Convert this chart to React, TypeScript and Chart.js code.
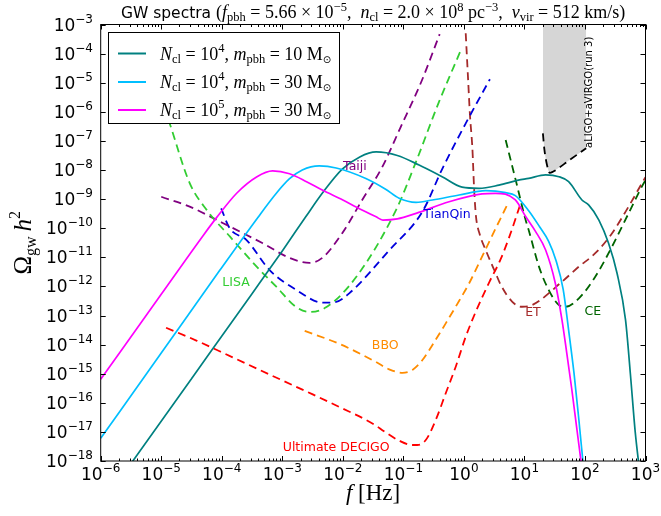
import React, { useEffect, useRef } from 'react';
import { Chart, registerables } from 'chart.js';

Chart.register(...registerables);

// ---- axis ticks (decade exponents) ----
const xTickExponents = [-6, -5, -4, -3, -2, -1, 0, 1, 2, 3];
const yTickExponents = [-18, -17, -16, -15, -14, -13, -12, -11, -10, -9, -8, -7, -6, -5, -4, -3];

// ---- model spectra (log10 f [Hz], log10 Omega h^2) ----
const tealLogF = [-5.5, -4.5, -3.5, -3.0, -2.61, -2.34, -2.01, -1.72, -1.45, -1.1, -0.74, -0.36, -0.03, 0.25, 0.58, 0.9, 1.07, 1.35, 1.57, 1.73, 1.95, 2.06, 2.23, 2.39, 2.53, 2.67, 2.75, 2.83, 2.9];
const tealLogOmega = [-18.09, -15.17, -12.25, -10.78, -9.6, -8.8, -7.97, -7.55, -7.38, -7.5, -7.83, -8.23, -8.59, -8.63, -8.52, -8.35, -8.29, -8.17, -8.23, -8.4, -9.03, -9.2, -9.72, -10.52, -11.55, -13.15, -15.0, -17.0, -18.3];

const cyanLogF = [-6.0, -5.0, -4.03, -3.4, -3.095, -2.88, -2.67, -2.39, -2.11, -1.62, -1.3, -1.07, -0.79, -0.52, -0.08, 0.36, 0.69, 0.85, 1.07, 1.25, 1.4, 1.52, 1.64, 1.73, 1.82, 1.9, 1.97];
const cyanLogOmega = [-17.22, -14.29, -11.44, -9.62, -8.79, -8.3, -8.0, -7.86, -7.93, -8.29, -8.65, -8.97, -9.11, -9.03, -8.86, -8.71, -8.78, -8.88, -9.4, -9.95, -10.45, -11.1, -12.1, -13.5, -15.0, -16.6, -18.1];

const magentaLogF = [-6.0, -5.0, -4.3, -4.08, -3.75, -3.425, -3.16, -2.88, -2.6, -2.34, -2.0, -1.78, -1.45, -1.34, -1.1, -0.79, -0.245, 0.3, 0.52, 0.85, 1.02, 1.18, 1.35, 1.51, 1.62, 1.7, 1.78, 1.86, 1.94];
const magentaLogOmega = [-15.19, -12.27, -10.23, -9.62, -8.79, -8.24, -8.03, -8.13, -8.4, -8.69, -9.03, -9.27, -9.61, -9.72, -9.68, -9.49, -9.09, -8.82, -8.8, -9.03, -9.6, -10.1, -10.75, -11.89, -13.15, -14.3, -15.5, -16.8, -18.1];

// ---- detector sensitivity curves ----
const lisaLogF = [-4.95, -4.86, -4.53, -4.25, -3.86, -3.42, -3.095, -2.77, -2.55, -2.27, -1.78, -1.12, -0.79, -0.41, -0.05];
const lisaLogOmega = [-5.85, -6.4, -8.45, -9.37, -10.3, -11.33, -12.02, -12.71, -12.88, -12.71, -11.68, -9.37, -7.71, -5.65, -3.88];

const taijiLogF = [-5.0, -4.53, -3.985, -3.33, -2.88, -2.55, -2.34, -2.01, -1.68, -1.35, -1.05, -0.7, -0.4];
const taijiLogOmega = [-8.92, -9.26, -9.82, -10.51, -11.02, -11.19, -11.02, -10.17, -9.03, -7.9, -6.55, -4.95, -3.33];

const tianqinLogF = [-4.01, -3.87, -3.59, -3.21, -2.77, -2.33, -2.11, -1.89, -1.23, -0.685, -0.355, 0.03, 0.43];
const tianqinLogOmega = [-9.32, -10.0, -10.41, -11.44, -12.12, -12.56, -12.53, -12.23, -10.75, -9.43, -7.95, -6.4, -4.88];

const bboLogF = [-2.63, -2.04, -1.45, -1.235, -1.015, -0.85, -0.685, -0.52, -0.3, -0.08, 0.085, 0.3, 0.55, 0.73];
const bboLogOmega = [-13.53, -13.99, -14.6, -14.85, -14.97, -14.87, -14.53, -14.01, -13.27, -12.5, -11.9, -10.98, -9.9, -9.14];

const decigoLogF = [-4.92, -4.41, -3.82, -3.23, -2.645, -2.06, -1.47, -1.32, -1.07, -0.85, -0.77, -0.63, -0.465, -0.3, -0.135, 0.03, 0.2, 0.42, 0.6, 0.75, 0.94];
const decigoLogOmega = [-13.42, -13.87, -14.44, -15.01, -15.57, -16.14, -16.76, -16.98, -17.3, -17.45, -17.45, -17.28, -16.59, -15.67, -14.76, -13.73, -12.85, -11.85, -11.1, -10.3, -9.13];

const etLogF = [0.03, 0.07, 0.1, 0.14, 0.17, 0.2, 0.26, 0.36, 0.525, 0.61, 0.8, 0.96, 1.13, 1.62, 1.9, 2.17, 2.445, 2.72, 2.94, 3.0];
const etLogOmega = [-3.3, -4.91, -6.11, -7.25, -8.7, -9.6, -10.2, -10.75, -11.55, -11.95, -12.53, -12.7, -12.64, -11.84, -11.32, -10.86, -10.18, -9.26, -8.46, -8.25];

const ceLogF = [0.69, 0.855, 1.02, 1.07, 1.24, 1.4, 1.57, 1.68, 1.9, 2.17, 2.445, 2.72, 2.94, 3.0];
const ceLogOmega = [-6.97, -8.34, -9.72, -10.06, -11.32, -12.12, -12.64, -12.7, -12.41, -11.67, -10.64, -9.49, -8.57, -8.35];

const ligoLogF = [1.305, 1.33, 1.37, 1.42, 1.47, 1.75, 2.02];
const ligoLogOmega = [-6.74, -7.3, -7.8, -8.1, -8.06, -7.65, -7.25];

// ---- text ----
const detectorLabels = [
  { text: 'Taiji', color: '#800080', logF: -1.8, logOmega: -7.9 },
  { text: 'LISA', color: '#32CD32', logF: -3.765, logOmega: -11.88 },
  { text: 'TianQin', color: '#0000DD', logF: -0.28, logOmega: -9.55 },
  { text: 'BBO', color: '#FF8C00', logF: -1.3, logOmega: -14.05 },
  { text: 'Ultimate DECIGO', color: '#FF0000', logF: -2.11, logOmega: -17.55 },
  { text: 'ET', color: '#A52A2A', logF: 1.14, logOmega: -12.91 },
  { text: 'CE', color: '#006400', logF: 2.13, logOmega: -12.88 },
];
const ligoLabel = 'aLIGO+aVIRGO(run 3)';

const SANS = '"DejaVu Sans", sans-serif';
const SERIF = '"Liberation Serif", "DejaVu Serif", serif';

type Seg = { t: string; s: number; it?: boolean; dy?: number; f?: string };

function segFont(g: Seg) {
  return `${g.it ? 'italic ' : ''}${g.s}px ${g.f || SERIF}`;
}
function richWidth(ctx: CanvasRenderingContext2D, segs: Seg[]) {
  let w = 0;
  for (const g of segs) {
    ctx.font = segFont(g);
    w += ctx.measureText(g.t).width;
  }
  return w;
}
function drawRich(ctx: CanvasRenderingContext2D, segs: Seg[], x: number, y: number, align: 'left' | 'center' | 'right') {
  const w = richWidth(ctx, segs);
  let cx = align === 'center' ? x - w / 2 : align === 'right' ? x - w : x;
  ctx.textAlign = 'left';
  ctx.textBaseline = 'alphabetic';
  for (const g of segs) {
    ctx.font = segFont(g);
    ctx.fillText(g.t, cx, y + (g.dy || 0));
    cx += ctx.measureText(g.t).width;
  }
}

function legendSegs(n: string, m: string): Seg[] {
  return [
    { t: 'N', s: 18, it: true },
    { t: 'cl', s: 12.5, dy: 3 },
    { t: ' = 10', s: 18 },
    { t: n, s: 12.5, dy: -8 },
    { t: ', ', s: 18 },
    { t: 'm', s: 18, it: true },
    { t: 'pbh', s: 12.5, dy: 3 },
    { t: ' = ' + m + ' M', s: 18 },
    { t: '⊙', s: 10, dy: 3, f: '"DejaVu Sans", sans-serif' },
  ];
}

const legendEntries = [
  { color: '#008080', segs: legendSegs('4', '10') },
  { color: '#00BFFF', segs: legendSegs('4', '30') },
  { color: '#FF00FF', segs: legendSegs('5', '30') },
];

const titleSegs: Seg[] = [
  { t: 'GW spectra ', s: 15.5, f: SANS },
  { t: '(', s: 18 },
  { t: 'f', s: 18, it: true },
  { t: 'pbh', s: 12.5, dy: 3 },
  { t: ' = 5.66 × 10', s: 18 },
  { t: '−5', s: 12.5, dy: -7 },
  { t: ',  ', s: 18 },
  { t: 'n', s: 18, it: true },
  { t: 'cl', s: 12.5, dy: 3 },
  { t: ' = 2.0 × 10', s: 18 },
  { t: '8', s: 12.5, dy: -7 },
  { t: ' pc', s: 18 },
  { t: '−3', s: 12.5, dy: -7 },
  { t: ',  ', s: 18 },
  { t: 'v', s: 18, it: true },
  { t: 'vir', s: 12.5, dy: 3 },
  { t: ' = 512 km/s)', s: 18 },
];

function pts(lf: number[], lo: number[]) {
  return lf.map((f, i) => ({ x: Math.pow(10, f), y: Math.pow(10, lo[i]) }));
}

const overlay = {
  id: 'overlay',
  afterDraw(chart: any) {
    const ctx: CanvasRenderingContext2D = chart.ctx;
    const { left, right, top, bottom } = chart.chartArea;
    const xs = chart.scales.x;
    const ys = chart.scales.y;
    ctx.save();

    // annotations
    ctx.font = `12.5px ${SANS}`;
    ctx.textAlign = 'center';
    ctx.textBaseline = 'middle';
    for (const l of detectorLabels) {
      ctx.fillStyle = l.color;
      ctx.fillText(l.text, xs.getPixelForValue(Math.pow(10, l.logF)), ys.getPixelForValue(Math.pow(10, l.logOmega)));
    }
    ctx.save();
    ctx.translate(xs.getPixelForValue(Math.pow(10, 2.08)), ys.getPixelForValue(Math.pow(10, -5.33)));
    ctx.rotate(-Math.PI / 2);
    ctx.fillStyle = '#000';
    ctx.font = `10px ${SANS}`;
    ctx.fillText(ligoLabel, 0, 0);
    ctx.restore();

    // legend
    const lx0 = 108.5, ly0 = 32.5, lx1 = 339.5, ly1 = 123.5;
    ctx.fillStyle = '#fff';
    ctx.fillRect(lx0, ly0, lx1 - lx0, ly1 - ly0);
    ctx.strokeStyle = '#000';
    ctx.lineWidth = 1;
    ctx.strokeRect(lx0, ly0, lx1 - lx0, ly1 - ly0);
    const rows = [53.5, 82, 110];
    legendEntries.forEach((e, i) => {
      ctx.strokeStyle = e.color;
      ctx.lineWidth = 2;
      ctx.beginPath();
      ctx.moveTo(118, rows[i]);
      ctx.lineTo(146, rows[i]);
      ctx.stroke();
      ctx.fillStyle = '#000';
      drawRich(ctx, e.segs, 160, rows[i] + 6, 'left');
    });

    // frame
    ctx.strokeStyle = '#000';
    ctx.lineWidth = 1;
    ctx.strokeRect(left, top, right - left, bottom - top);

    // ticks
    ctx.beginPath();
    for (const e of yTickExponents) {
      const y = Math.round(ys.getPixelForValue(Math.pow(10, e))) + 0.5;
      ctx.moveTo(left, y); ctx.lineTo(left + 5, y);
      ctx.moveTo(right, y); ctx.lineTo(right - 5, y);
    }
    for (const e of xTickExponents) {
      const x = Math.round(xs.getPixelForValue(Math.pow(10, e))) + 0.5;
      ctx.moveTo(x, bottom); ctx.lineTo(x, bottom - 5);
      ctx.moveTo(x, top); ctx.lineTo(x, top + 5);
      if (e < 3) {
        for (let k = 2; k <= 9; k++) {
          const xm = Math.round(xs.getPixelForValue(k * Math.pow(10, e))) + 0.5;
          ctx.moveTo(xm, bottom); ctx.lineTo(xm, bottom - 2.5);
          ctx.moveTo(xm, top); ctx.lineTo(xm, top + 2.5);
        }
      }
    }
    ctx.stroke();

    // tick labels
    ctx.fillStyle = '#000';
    for (const e of yTickExponents) {
      const y = ys.getPixelForValue(Math.pow(10, e));
      drawRich(ctx, [
        { t: '10', s: 17, f: SANS },
        { t: '−' + String(-e), s: 12, dy: -8, f: SANS },
      ], 93, y + 6, 'right');
    }
    for (const e of xTickExponents) {
      const x = xs.getPixelForValue(Math.pow(10, e));
      const sup = e < 0 ? '−' + String(-e) : String(e);
      drawRich(ctx, [
        { t: '10', s: 17, f: SANS },
        { t: sup, s: 12, dy: -8, f: SANS },
      ], x, 480, 'center');
    }

    // axis titles
    drawRich(ctx, [
      { t: 'f', s: 23, it: true },
      { t: ' [Hz]', s: 23 },
    ], (left + right) / 2, 500, 'center');

    ctx.save();
    ctx.translate(31, (top + bottom) / 2);
    ctx.rotate(-Math.PI / 2);
    drawRich(ctx, [
      { t: 'Ω', s: 25 },
      { t: 'gw', s: 16, dy: 5 },
      { t: '\u2009h', s: 25, it: true },
      { t: '2', s: 16, dy: -11 },
    ], 0, 0, 'center');
    ctx.restore();

    // title
    drawRich(ctx, titleSegs, (left + right) / 2, 18, 'center');

    ctx.restore();
  },
};

function line(label: string, data: any[], color: string, dashed: boolean, extra: any = {}) {
  return {
    label,
    data,
    showLine: true,
    borderColor: color,
    backgroundColor: color,
    borderWidth: dashed ? 1.8 : 1.7,
    borderDash: dashed ? [8, 5] : [],
    pointRadius: 0,
    pointHoverRadius: 0,
    cubicInterpolationMode: 'monotone',
    fill: false,
    ...extra,
  };
}

export default function App() {
  const ref = useRef<HTMLCanvasElement | null>(null);
  useEffect(() => {
    if (!ref.current) return;
    const chart = new Chart(ref.current, {
      type: 'scatter',
      data: {
        datasets: [
          line('N1e5m30', pts(magentaLogF, magentaLogOmega), '#FF00FF', false),
          line('N1e4m30', pts(cyanLogF, cyanLogOmega), '#00BFFF', false),
          line('N1e4m10', pts(tealLogF, tealLogOmega), '#008080', false),
          line('LISA', pts(lisaLogF, lisaLogOmega), '#32CD32', true),
          line('Taiji', pts(taijiLogF, taijiLogOmega), '#800080', true),
          line('TianQin', pts(tianqinLogF, tianqinLogOmega), '#0000DD', true),
          line('BBO', pts(bboLogF, bboLogOmega), '#FF8C00', true),
          line('DECIGO', pts(decigoLogF, decigoLogOmega), '#FF0000', true),
          line('ET', pts(etLogF, etLogOmega), '#A52A2A', true),
          line('CE', pts(ceLogF, ceLogOmega), '#006400', true),
          line('LIGO', pts(ligoLogF, ligoLogOmega), '#000000', true, { fill: 'end', backgroundColor: '#D6D6D6' }),
        ],
      },
      options: {
        responsive: false,
        animation: false,
        events: [],
        layout: { padding: { left: 100.7, right: 15.5, top: 24.5, bottom: 55 } },
        scales: {
          x: { type: 'logarithmic', min: 1e-6, max: 1e3, display: false },
          y: { type: 'logarithmic', min: 1e-18, max: 1e-3, display: false },
        },
        plugins: {
          legend: { display: false },
          tooltip: { enabled: false },
          title: { display: false },
        },
      } as any,
      plugins: [overlay],
    });
    return () => chart.destroy();
  }, []);
  return (
    <div style={{ position: 'fixed', left: 0, top: 0, width: 661, height: 516, background: '#fff' }}>
      <canvas ref={ref} width={661} height={516} style={{ width: 661, height: 516 }} />
    </div>
  );
}
